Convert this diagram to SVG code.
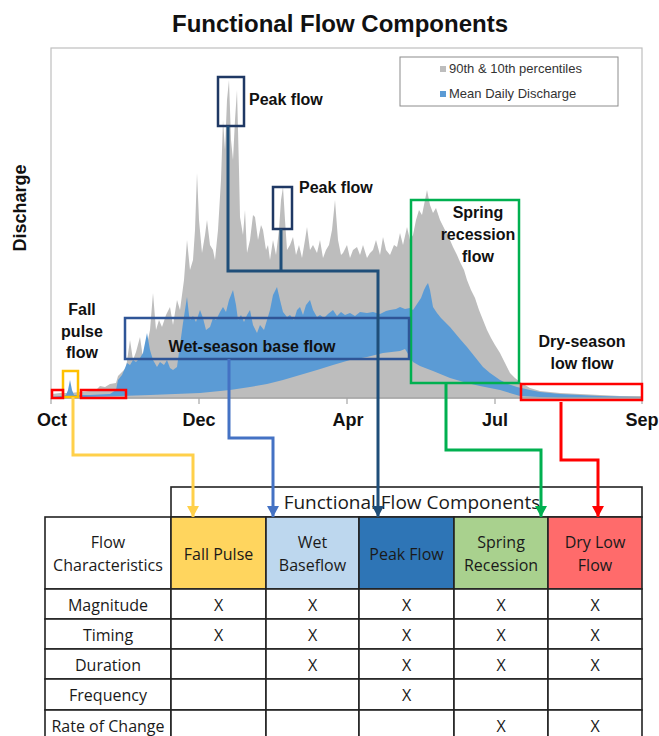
<svg xmlns="http://www.w3.org/2000/svg" width="659" height="736" viewBox="0 0 659 736">
<defs>
<style>
.lbl{font-family:"Liberation Sans",Arial,sans-serif;font-weight:bold;font-size:16px;fill:#111}
.ax{font-family:"Liberation Sans",Arial,sans-serif;font-weight:bold;font-size:18px;fill:#111;text-anchor:middle}
.leg{font-family:"Liberation Sans",Arial,sans-serif;font-size:13px;fill:#333}
.tb{font-family:"Open Sans","Liberation Sans",sans-serif;font-size:16px;fill:#1a1a1a;text-anchor:middle}
.tbh{font-family:"Open Sans","Liberation Sans",sans-serif;font-size:19px;fill:#1a1a1a;text-anchor:middle}
.cell{stroke:#222;stroke-width:1.6}
.conn{fill:none;stroke-width:3}
.box{fill:none;stroke-width:2.5}
</style>
<marker id="aY" markerUnits="userSpaceOnUse" markerWidth="12" markerHeight="12" refX="6" refY="11" viewBox="0 0 12 12"><path d="M0,0 L12,0 L6,11 Z" fill="#FFD04A"/></marker>
<marker id="aW" markerUnits="userSpaceOnUse" markerWidth="12" markerHeight="12" refX="6" refY="11" viewBox="0 0 12 12"><path d="M0,0 L12,0 L6,11 Z" fill="#4472C4"/></marker>
<marker id="aP" markerUnits="userSpaceOnUse" markerWidth="12" markerHeight="12" refX="6" refY="11" viewBox="0 0 12 12"><path d="M0,0 L12,0 L6,11 Z" fill="#1F4E79"/></marker>
<marker id="aG" markerUnits="userSpaceOnUse" markerWidth="12" markerHeight="12" refX="6" refY="11" viewBox="0 0 12 12"><path d="M0,0 L12,0 L6,11 Z" fill="#00B050"/></marker>
<marker id="aR" markerUnits="userSpaceOnUse" markerWidth="12" markerHeight="12" refX="6" refY="11" viewBox="0 0 12 12"><path d="M0,0 L12,0 L6,11 Z" fill="#FF0000"/></marker>
</defs>
<rect width="659" height="736" fill="#fff"/>
<text x="340" y="32" text-anchor="middle" font-family="Liberation Sans, Arial, sans-serif" font-weight="bold" font-size="24" fill="#111">Functional Flow Components</text>

<g id="chart">
<rect x="51" y="48" width="591" height="350" fill="#fff" stroke="#BFBFBF" stroke-width="1.2"/>
<polygon fill="#BDBDBD" points="52,398 52,394 60,393 70,393 80,392 90,391 97,389 100,386 105,387 110,384 116,383 118,376 122,372 126,368 130,340 133,360 136,352 140,337 143,358 147,345 150,330 153,293 156,330 159,320 162,327 166,315 170,307 173,325 177,300 180,310 184,280 187,240 190,270 193,260 195,230 197,173 199,220 202,253 205,235 207,220 210,245 213,250 215,260 218,230 221,180 223,120 225,150 227,100 229,80 231,140 233,160 235,120 237,90 239,170 240,217 243,235 245,210 247,253 250,240 253,215 255,217 258,240 261,225 263,230 266,250 268,245 270,260 273,240 276,255 279,230 281,200 283,187 285,220 287,250 290,245 293,237 296,255 299,245 302,258 305,240 307,227 310,250 313,245 317,253 320,240 323,258 326,250 329,245 332,230 335,200 338,240 341,255 343,253 347,245 350,258 353,250 357,247 360,255 363,245 367,258 370,253 373,250 376,240 380,255 383,237 386,250 390,255 394,245 397,247 400,233 403,245 407,227 410,240 413,235 416,220 419,210 422,215 425,200 427,190 430,205 433,213 436,208 440,220 445,230 450,240 453,247 457,255 460,262 464,270 467,280 471,290 475,298 479,310 483,320 487,330 491,338 495,345 500,353 505,363 510,373 515,378 520,382 530,388 540,391 560,393 580,394 600,395 620,396 641,396 641,398"/>
<polygon fill="#5B9BD5" points="52,397 62,396 66,395 68,390 70,380 72,390 74,395 90,395 110,394 116,390 118,380 122,375 125,368 127,363 130,365 133,360 136,362 140,358 143,353 147,333 150,350 153,360 157,367 160,362 164,365 167,360 170,368 173,370 177,367 180,345 183,323 185,310 187,297 189,315 190,320 193,316 196,322 200,310 203,318 206,330 210,327 213,318 216,320 220,312 223,307 226,312 229,300 233,290 236,305 238,320 241,315 244,322 247,315 250,310 253,325 257,333 260,325 264,330 267,320 270,310 273,295 277,287 280,300 283,312 287,317 290,315 294,320 297,310 300,307 303,315 306,305 310,300 313,310 317,317 320,315 324,318 328,314 333,310 337,316 341,312 345,315 350,313 355,316 360,312 367,313 373,312 380,314 386,311 390,310 396,309 400,307 405,309 410,308 413,310 417,304 421,298 424,290 426,286 428,283 430,290 433,307 437,313 441,318 445,322 450,327 455,333 460,339 467,347 475,357 483,367 490,373 500,380 508,384 517,387 530,390 540,392 560,394 580,395 600,396 620,396.5 641,397 641,398 560,398 520,396 500,390 480,386 467,383 450,378 433,371 420,366 413,362 405,349 400,351 383,353 367,357 350,360 333,365 317,370 300,375 283,380 267,384 250,387 230,390 200,393 150,395 120,396 52,398"/>
<line x1="51" y1="398" x2="642" y2="398" stroke="#A6A6A6" stroke-width="1.5"/>
<path d="M199,398 v6 M347,398 v6 M495,398 v6 M51,398 v6 M642,398 v6" stroke="#A6A6A6" stroke-width="1.2"/>
<text class="ax" x="52" y="426">Oct</text>
<text class="ax" x="199" y="426">Dec</text>
<text class="ax" x="348" y="426">Apr</text>
<text class="ax" x="495" y="426">Jul</text>
<text class="ax" x="642" y="426">Sep</text>
<text x="26" y="208" transform="rotate(-90 26 208)" text-anchor="middle" font-family="Liberation Sans, Arial, sans-serif" font-weight="bold" font-size="18" fill="#111">Discharge</text>
</g>

<g id="legend">
<rect x="400" y="57" width="218" height="49" fill="#fff" stroke="#8C8C8C" stroke-width="1"/>
<rect x="440" y="66" width="6" height="6" fill="#BDBDBD"/>
<text class="leg" x="449" y="73">90th &amp; 10th percentiles</text>
<rect x="440" y="91" width="6" height="6" fill="#5B9BD5"/>
<text class="leg" x="449" y="98">Mean Daily Discharge</text>
</g>

<g id="peak-flow-1">
<rect class="box" x="218" y="77" width="26" height="49" stroke="#1F3864"/>
<text class="lbl" x="249" y="105">Peak flow</text>
</g>
<g id="peak-flow-2">
<rect class="box" x="273" y="187" width="19" height="42" stroke="#1F3864"/>
<text class="lbl" x="299" y="193">Peak flow</text>
</g>
<g id="spring-recession">
<rect class="box" x="411" y="200" width="108" height="183" stroke="#00B050"/>
<text class="lbl" x="478" y="218" text-anchor="middle">Spring</text>
<text class="lbl" x="478" y="240" text-anchor="middle">recession</text>
<text class="lbl" x="478" y="262" text-anchor="middle">flow</text>
</g>
<g id="wet-season">
<rect class="box" x="125" y="318" width="284" height="41" stroke="#2F5597"/>
<text class="lbl" x="252" y="352" text-anchor="middle">Wet-season base flow</text>
</g>
<g id="fall-pulse">
<rect class="box" x="63" y="371" width="15" height="26" stroke="#FFC000"/>
<text class="lbl" x="82" y="315" text-anchor="middle">Fall</text>
<text class="lbl" x="82" y="337" text-anchor="middle">pulse</text>
<text class="lbl" x="82" y="358" text-anchor="middle">flow</text>
</g>
<g id="dry-season">
<rect class="box" x="52" y="390" width="11" height="8" stroke="#FF0000"/>
<rect class="box" x="81" y="390" width="45" height="8" stroke="#FF0000"/>
<rect class="box" x="521" y="384" width="121" height="16" stroke="#FF0000"/>
<text class="lbl" x="582" y="347" text-anchor="middle">Dry-season</text>
<text class="lbl" x="582" y="369" text-anchor="middle">low flow</text>
</g>

<g id="table">
<rect class="cell" x="171" y="487" width="471" height="30" fill="#fff"/>
<text class="tbh" x="412" y="509">Functional Flow Components</text>
<rect class="cell" x="45" y="517" width="126" height="72" fill="#fff"/>
<rect class="cell" x="171" y="517" width="95" height="72" fill="#FFD55E"/>
<rect class="cell" x="266" y="517" width="93" height="72" fill="#BDD7EE"/>
<rect class="cell" x="359" y="517" width="95" height="72" fill="#2E75B6"/>
<rect class="cell" x="454" y="517" width="94" height="72" fill="#A9D18E"/>
<rect class="cell" x="548" y="517" width="94" height="72" fill="#FF6B6B"/>
<text class="tb" x="108" y="548">Flow</text>
<text class="tb" x="108" y="571">Characteristics</text>
<text class="tb" x="218.5" y="560">Fall Pulse</text>
<text class="tb" x="312.5" y="548">Wet</text>
<text class="tb" x="312.5" y="571">Baseflow</text>
<text class="tb" x="406.5" y="560">Peak Flow</text>
<text class="tb" x="501" y="548">Spring</text>
<text class="tb" x="501" y="571">Recession</text>
<text class="tb" x="595" y="548">Dry Low</text>
<text class="tb" x="595" y="571">Flow</text>
<g fill="#fff" class="cell">
<rect x="45" y="589" width="126" height="30"/><rect x="171" y="589" width="95" height="30"/><rect x="266" y="589" width="93" height="30"/><rect x="359" y="589" width="95" height="30"/><rect x="454" y="589" width="94" height="30"/><rect x="548" y="589" width="94" height="30"/>
<rect x="45" y="619" width="126" height="30"/><rect x="171" y="619" width="95" height="30"/><rect x="266" y="619" width="93" height="30"/><rect x="359" y="619" width="95" height="30"/><rect x="454" y="619" width="94" height="30"/><rect x="548" y="619" width="94" height="30"/>
<rect x="45" y="649" width="126" height="30"/><rect x="171" y="649" width="95" height="30"/><rect x="266" y="649" width="93" height="30"/><rect x="359" y="649" width="95" height="30"/><rect x="454" y="649" width="94" height="30"/><rect x="548" y="649" width="94" height="30"/>
<rect x="45" y="679" width="126" height="31"/><rect x="171" y="679" width="95" height="31"/><rect x="266" y="679" width="93" height="31"/><rect x="359" y="679" width="95" height="31"/><rect x="454" y="679" width="94" height="31"/><rect x="548" y="679" width="94" height="31"/>
<rect x="45" y="710" width="126" height="40"/><rect x="171" y="710" width="95" height="40"/><rect x="266" y="710" width="93" height="40"/><rect x="359" y="710" width="95" height="40"/><rect x="454" y="710" width="94" height="40"/><rect x="548" y="710" width="94" height="40"/>
</g>
<text class="tb" x="108" y="611">Magnitude</text>
<text class="tb" x="108" y="641">Timing</text>
<text class="tb" x="108" y="671">Duration</text>
<text class="tb" x="108" y="701">Frequency</text>
<text class="tb" x="108" y="732">Rate of Change</text>
<text class="tb" x="218.5" y="611">X</text><text class="tb" x="312.5" y="611">X</text><text class="tb" x="406.5" y="611">X</text><text class="tb" x="501" y="611">X</text><text class="tb" x="595" y="611">X</text>
<text class="tb" x="218.5" y="641">X</text><text class="tb" x="312.5" y="641">X</text><text class="tb" x="406.5" y="641">X</text><text class="tb" x="501" y="641">X</text><text class="tb" x="595" y="641">X</text>
<text class="tb" x="312.5" y="671">X</text><text class="tb" x="406.5" y="671">X</text><text class="tb" x="501" y="671">X</text><text class="tb" x="595" y="671">X</text>
<text class="tb" x="406.5" y="701">X</text>
<text class="tb" x="501" y="732">X</text><text class="tb" x="595" y="732">X</text>
</g>

<g id="connectors">
<polyline class="conn" stroke="#FFD04A" points="73,397 73,455 193,455 193,517" marker-end="url(#aY)"/>
<polyline class="conn" stroke="#4472C4" points="229,359 229,438 273,438 273,517" marker-end="url(#aW)"/>
<polyline class="conn" stroke="#1F4E79" points="228,126 228,271 378,271 378,517" marker-end="url(#aP)"/>
<polyline class="conn" stroke="#1F4E79" points="281,229 281,271"/>
<polyline class="conn" stroke="#00B050" points="446,383 446,450 541,450 541,517" marker-end="url(#aG)"/>
<polyline class="conn" stroke="#FF0000" points="561,402 561,460 598,460 598,517" marker-end="url(#aR)"/>
</g>
</svg>
